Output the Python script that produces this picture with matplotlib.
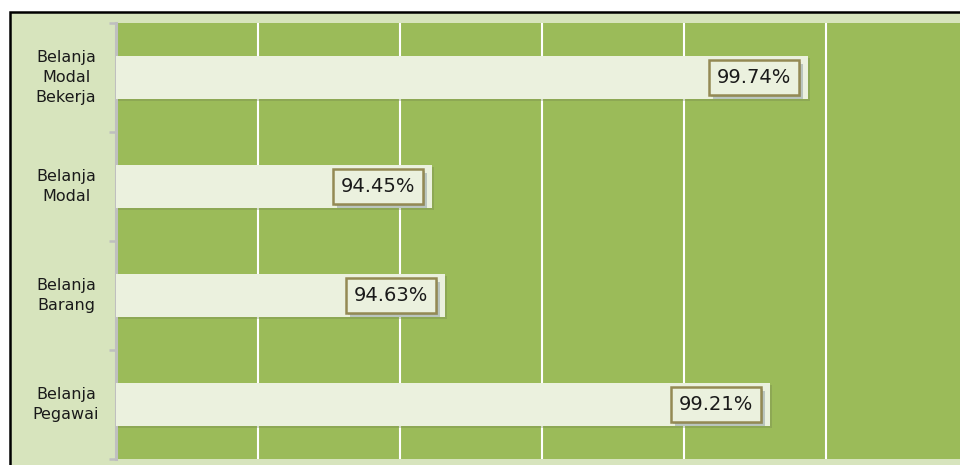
import matplotlib
matplotlib.use('Agg')
import matplotlib.pyplot as plt
import matplotlib.patheffects as pe
from matplotlib.patches import Rectangle
from matplotlib.transforms import blended_transform_factory

# Data (top to bottom as shown)
kategori = ['Belanja\nPegawai', 'Belanja\nBarang', 'Belanja\nModal', 'Belanja\nModal\nBekerja']
realisasi = [99.21, 94.63, 94.45, 99.74]
label_nilai = ['99.21%', '94.63%', '94.45%', '99.74%']

fig = plt.figure(figsize=(9.6, 4.65), dpi=100, facecolor='white')

# outer light-green frame with black border
W, H = 960, 465
frame = Rectangle((10 / W, -0.1), 1.2, (H - 12) / H + 0.1, transform=fig.transFigure,
                  facecolor='#d7e4bd', edgecolor='black', linewidth=1.8, zorder=-5)
fig.patches.append(frame)

ax = fig.add_axes([116 / W, 6 / H, (968 - 116) / W, (459 - 23) / H])
ax.set_zorder(2)
ax.set_facecolor('#9bbb59')

posisi = list(range(len(kategori)))
bars = ax.barh(posisi, [v - 90 for v in realisasi], left=90, height=0.4,
               color='#ebf1de', edgecolor='none', zorder=3)
for b in bars:
    b.set_path_effects([pe.SimplePatchShadow(offset=(1.5, -1.5), shadow_rgbFace='#6d7f4a', alpha=0.3),
                        pe.Normal()])

ax.set_xlim(90, 102)
ax.set_ylim(-0.5, 3.5)

# vertical gridlines
ax.set_xticks([92, 94, 96, 98, 100])
ax.xaxis.grid(True, color='white', linewidth=1.5, zorder=1)
ax.set_axisbelow(True)
ax.tick_params(axis='x', length=0, labelbottom=False)

ax.set_yticks([-0.5, 0.5, 1.5, 2.5, 3.5])
ax.set_yticklabels([])
ax.tick_params(axis='y', direction='out', length=5, width=1.8, color='#bfbfbf')

for s in ['top', 'right', 'bottom']:
    ax.spines[s].set_visible(False)
ax.spines['left'].set_color('#bfbfbf')
ax.spines['left'].set_linewidth(2.2)

# category labels
trans = blended_transform_factory(fig.transFigure, ax.transData)
for y, k in zip(posisi, kategori):
    ax.text(66 / W, y, k, transform=trans, ha='center', va='center',
            fontsize=11.5, color='#1a1a1a', linespacing=1.45, clip_on=False)

# value labels in boxes
for y, v, t in zip(posisi, realisasi, label_nilai):
    txt = ax.annotate(t, xy=(v, y), xytext=(-12, 0), textcoords='offset points',
                      ha='right', va='center', fontsize=14, color='#1a1a1a', zorder=5,
                      bbox=dict(boxstyle='square,pad=0.4', facecolor='#ebf1de',
                                edgecolor='#948a54', linewidth=1.8))
    txt.get_bbox_patch().set_path_effects([
        pe.SimplePatchShadow(offset=(3, -3), shadow_rgbFace='#5f7385', alpha=0.35),
        pe.SimplePatchShadow(offset=(1.5, -1.5), shadow_rgbFace='#5f7385', alpha=0.3),
        pe.Normal()])

fig.savefig('out.png', dpi=100, facecolor=fig.get_facecolor())
